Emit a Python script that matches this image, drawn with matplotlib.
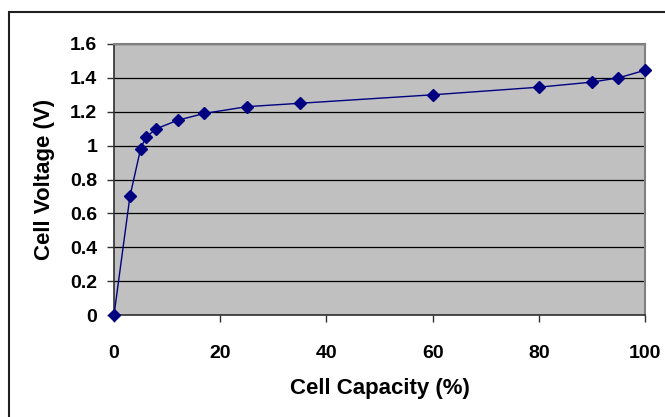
import matplotlib
matplotlib.use("Agg")
import matplotlib.pyplot as plt
from matplotlib.patches import Rectangle

# cell capacity (%) vs cell voltage (V)
capacity = [0, 3, 5, 6, 8, 12, 17, 25, 35, 60, 80, 90, 95, 100]
voltage = [0, 0.70, 0.98, 1.05, 1.10, 1.15, 1.19, 1.23, 1.25, 1.30, 1.345, 1.375, 1.40, 1.445]
xticks = [0, 20, 40, 60, 80, 100]
yticks = [0, 0.2, 0.4, 0.6, 0.8, 1.0, 1.2, 1.4, 1.6]
ylabels = ["0", "0.2", "0.4", "0.6", "0.8", "1", "1.2", "1.4", "1.6"]

plt.rcParams['font.family'] = ['Liberation Sans', 'DejaVu Sans']

fig = plt.figure(figsize=(6.65, 4.17), dpi=100)
ax = fig.add_axes([114/665, 1 - 315/417, (645-114)/665, (315-44)/417])

# outer chart border
fig.patches.append(Rectangle((9/665, -0.1), 1.0, 0.1 + (417-12)/417,
                             transform=fig.transFigure, fill=False,
                             edgecolor='#202020', linewidth=1.5))

ax.set_facecolor('#C0C0C0')
ax.plot(capacity, voltage, color='#000080', linewidth=1.0,
        marker='D', markersize=6, markerfacecolor='#000080',
        markeredgecolor='#000080', clip_on=False, zorder=3)

ax.set_xlim(0, 100)
ax.set_ylim(0, 1.6)
ax.set_xticks(xticks)
ax.set_yticks(yticks)
ax.set_yticklabels(ylabels)
ax.grid(axis='y', color='black', linewidth=0.9)
ax.set_axisbelow(True)

for side in ['top', 'right']:
    ax.spines[side].set_color('#808080')
    ax.spines[side].set_linewidth(1.5)
for side in ['left', 'bottom']:
    ax.spines[side].set_color('#303030')
    ax.spines[side].set_linewidth(1.2)

ax.tick_params(axis='x', direction='out', length=5, width=1, color='#303030',
               pad=16.5, labelsize=14)
ax.tick_params(axis='y', direction='out', length=5, width=1, color='#303030',
               pad=7, labelsize=14)
for lbl in ax.get_xticklabels() + ax.get_yticklabels():
    lbl.set_fontweight('bold')

ax.set_xlabel('Cell Capacity (%)', fontsize=16, fontweight='bold')
ax.set_ylabel('Cell Voltage (V)', fontsize=16, fontweight='bold')
ax.xaxis.set_label_coords(0.5, -0.232)
ax.yaxis.set_label_coords(-0.112, 0.5)

fig.savefig('out.png', dpi=100)
